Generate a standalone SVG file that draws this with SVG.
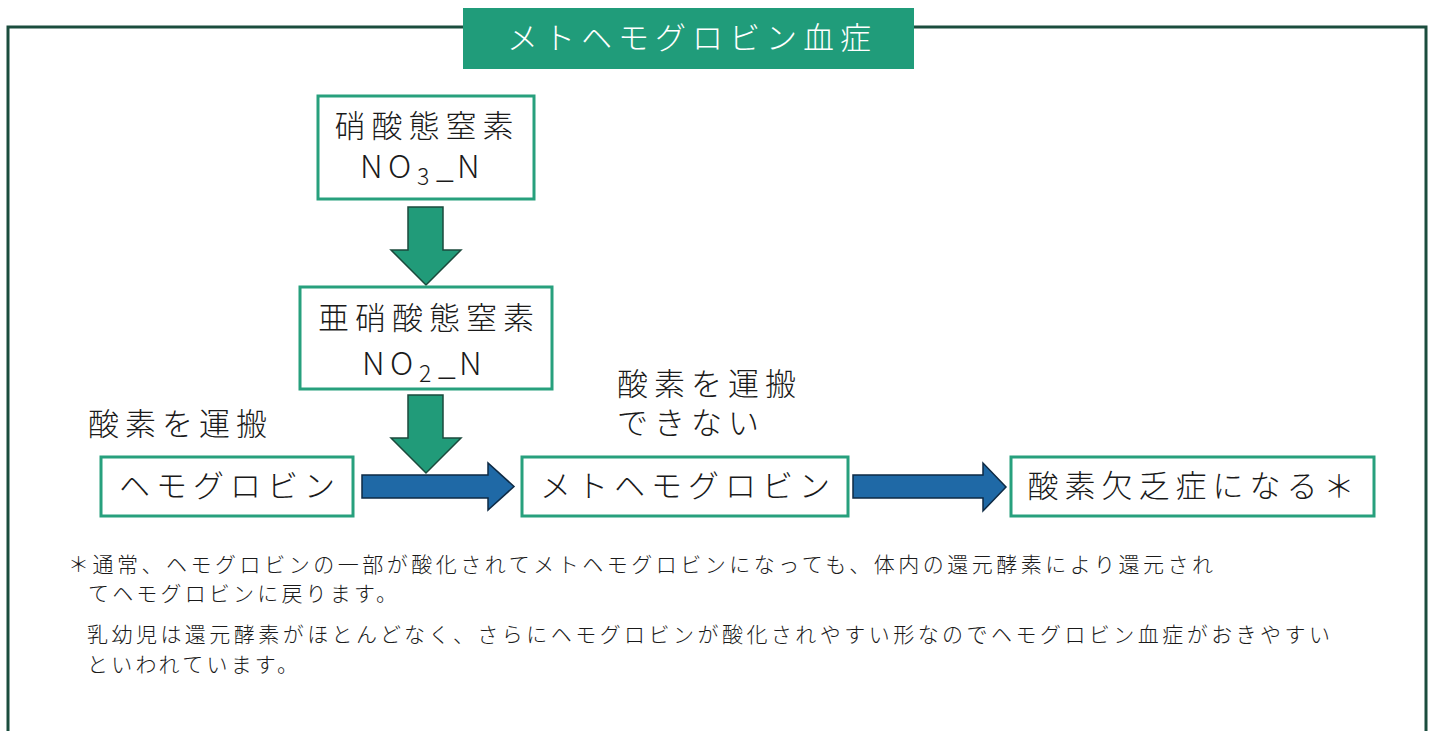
<svg xmlns="http://www.w3.org/2000/svg" width="1434" height="731" viewBox="0 0 1434 731">
  <style>
    .t { font-family: "Noto Sans CJK JP", "Noto Sans", sans-serif; font-weight: 300; fill: #1a1a1a; }
    .big { font-size: 31px; letter-spacing: 6px; }
    .chem { font-size: 32px; }
    .sub { font-size: 23px; }
    .foot { font-size: 21px; }
    .box { fill: #ffffff; stroke: #27a07d; stroke-width: 3; }
    .garrow { fill: #219b79; stroke: #1b4a3c; stroke-width: 1.5; stroke-linejoin: miter; }
    .barrow { fill: #1f69a6; stroke: #0e2a44; stroke-width: 1.5; stroke-linejoin: miter; }
  </style>
  <rect x="0" y="0" width="1434" height="731" fill="#ffffff"/>
  <!-- outer frame -->
  <path d="M8,745 L8,27 L1426,27 L1426,745" fill="none" stroke="#1b4d3e" stroke-width="3"/>
  <!-- title -->
  <g id="title">
    <rect x="463" y="8" width="451" height="61" fill="#209c7a"/>
    <text class="t big" x="692" y="49" text-anchor="middle" style="fill:#ffffff">メトヘモグロビン血症</text>
  </g>
  <!-- connectors -->
  <g id="connectors">
    <polygon class="barrow" points="362,475 488,475 488,463 514,486.5 488,510 488,498 362,498"/>
    <polygon class="barrow" points="853,475 983,475 983,463 1006,487 983,511 983,498 853,498"/>
    <polygon class="garrow" points="408,207 443,207 443,250 461,250 426,285 391,250 408,250"/>
    <polygon class="garrow" points="408,395 443,395 443,438 461,438 426,473 391,438 408,438"/>
  </g>
  <g id="node-no3">
    <rect class="box" x="318" y="96" width="216" height="103"/>
    <text class="t big" x="427" y="137" text-anchor="middle">硝酸態窒素</text>
    <text class="t chem" x="360" y="178">N</text>
    <text class="t chem" x="388" y="178">O</text>
    <text class="t sub" x="417" y="185">3</text>
    <text class="t chem" x="436" y="178">_</text>
    <text class="t chem" x="457" y="178">N</text>
  </g>
  <g id="node-no2">
    <rect class="box" x="300" y="287" width="252" height="102"/>
    <text class="t big" x="429" y="329" text-anchor="middle">亜硝酸態窒素</text>
    <text class="t chem" x="362" y="375">N</text>
    <text class="t chem" x="390" y="375">O</text>
    <text class="t sub" x="419" y="382">2</text>
    <text class="t chem" x="438" y="375">_</text>
    <text class="t chem" x="459" y="375">N</text>
  </g>
  <g id="label-carry">
    <text class="t big" x="88" y="435">酸素を運搬</text>
  </g>
  <g id="label-cannot">
    <text class="t big"><tspan x="617" y="395">酸素を運搬</tspan><tspan x="617" y="434">できない</tspan></text>
  </g>
  <g id="node-hb">
    <rect class="box" x="101" y="457" width="252" height="59"/>
    <text class="t big" x="230" y="497" text-anchor="middle">ヘモグロビン</text>
  </g>
  <g id="node-methb">
    <rect class="box" x="522" y="457" width="326" height="59"/>
    <text class="t big" x="688" y="497" text-anchor="middle">メトヘモグロビン</text>
  </g>
  <g id="node-hypoxia">
    <rect class="box" x="1011" y="457" width="363" height="59"/>
    <text class="t big" x="1194" y="497" text-anchor="middle">酸素欠乏症になる＊</text>
  </g>
  <g id="footnote">
    <text class="t foot" x="68" y="572" textLength="1145" lengthAdjust="spacing">＊通常、ヘモグロビンの一部が酸化されてメトヘモグロビンになっても、体内の還元酵素により還元され</text>
    <text class="t foot" x="88" y="601" textLength="309" lengthAdjust="spacing">てヘモグロビンに戻ります。</text>
    <text class="t foot" x="87" y="642" textLength="1243" lengthAdjust="spacing">乳幼児は還元酵素がほとんどなく、さらにヘモグロビンが酸化されやすい形なのでヘモグロビン血症がおきやすい</text>
    <text class="t foot" x="87" y="672" textLength="211" lengthAdjust="spacing">といわれています。</text>
  </g>
</svg>
